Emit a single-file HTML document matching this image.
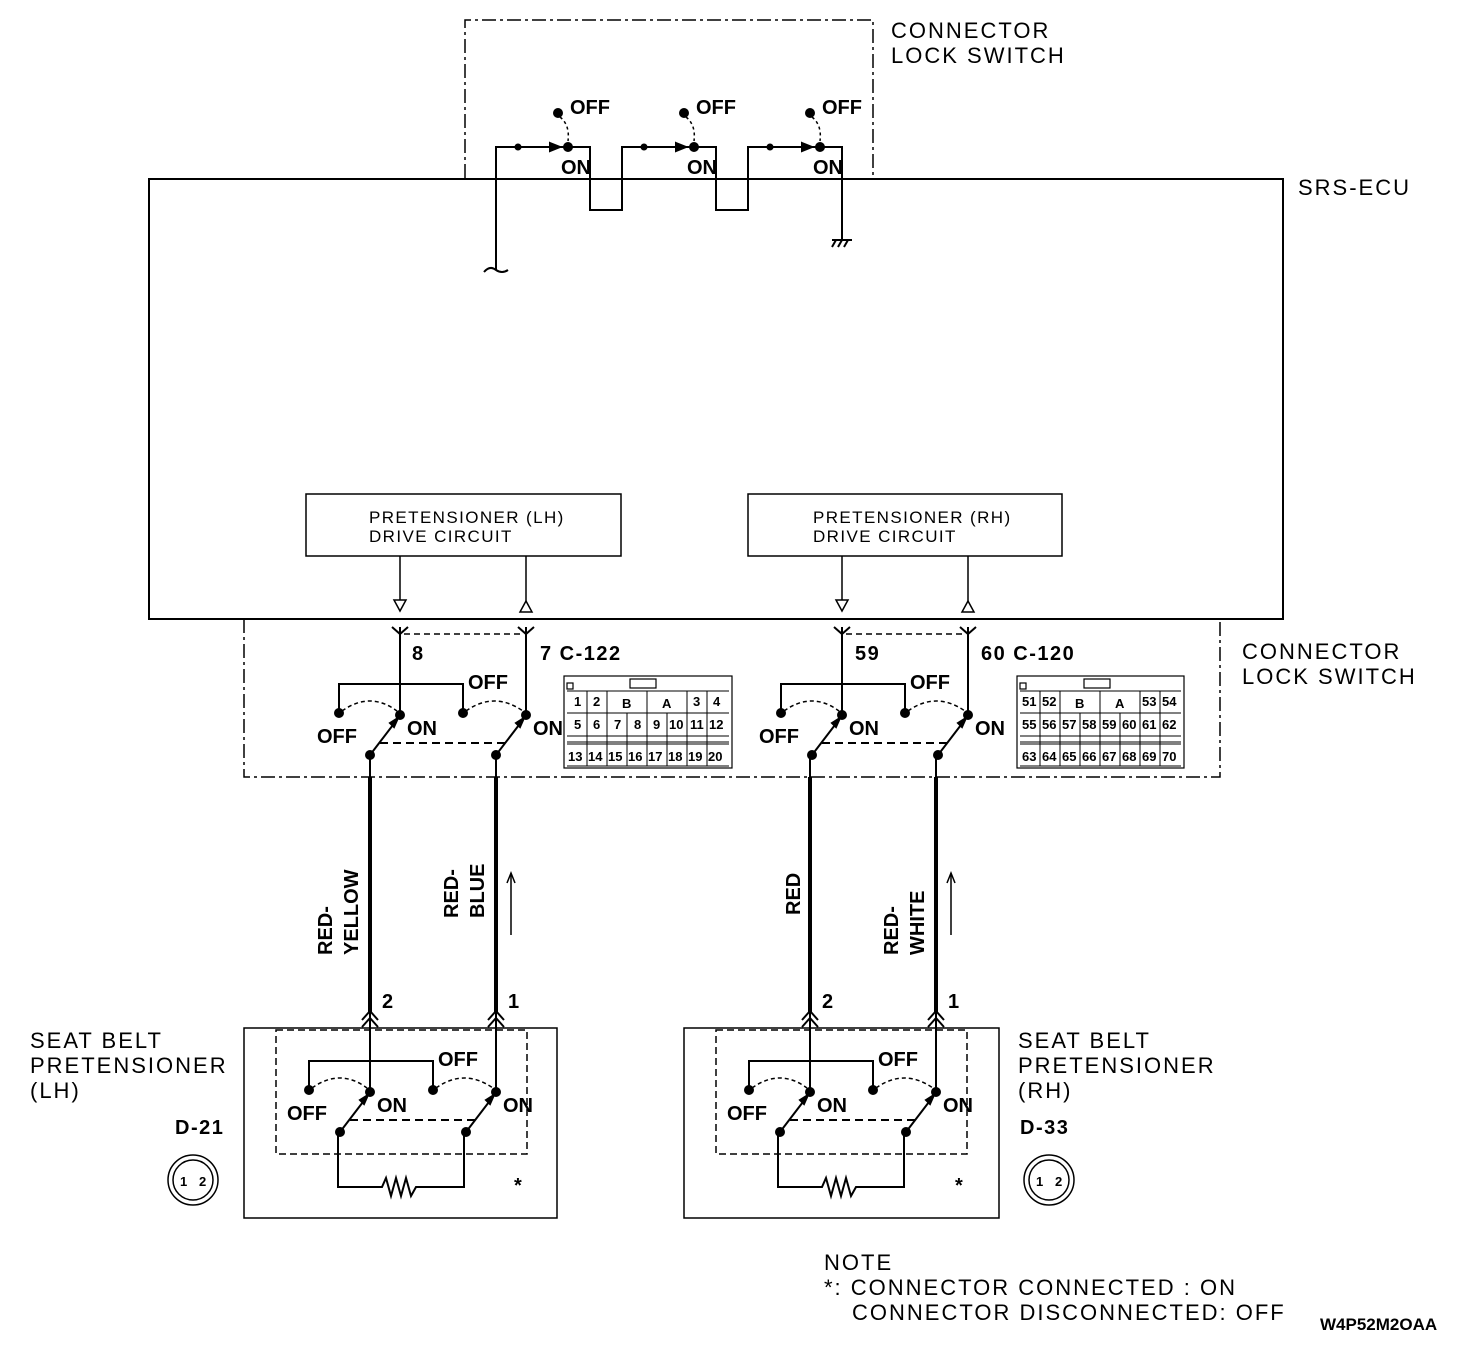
<!DOCTYPE html>
<html><head><style>
html,body{margin:0;padding:0;background:#fff}
svg{display:block}
text{font-family:"Liberation Sans",sans-serif;fill:#000}
.b{font-weight:bold;font-size:20px}
.n{font-size:22px;letter-spacing:2px}
.s{font-size:17px;letter-spacing:1.4px}
.c{font-size:13px;font-weight:bold}
.w{letter-spacing:1.5px}
</style></head><body>
<svg width="1472" height="1356" viewBox="0 0 1472 1356" xmlns="http://www.w3.org/2000/svg">
<defs>
<g id="sw" fill="none" stroke="#000" stroke-width="2">
  <line x1="0" y1="-88" x2="0" y2="0"/>
  <line x1="126" y1="-88" x2="126" y2="0"/>
  <polyline points="-61,-2 -61,-31 63,-31 63,-2"/>
  <path d="M-58,-4 Q-30,-24 -3,-4" stroke-dasharray="4,3" stroke-width="1.5"/>
  <path d="M66,-4 Q94,-24 123,-4" stroke-dasharray="4,3" stroke-width="1.5"/>
  <line x1="-30" y1="40" x2="-4" y2="6"/>
  <line x1="96" y1="40" x2="122" y2="6"/>
  <line x1="-20" y1="28" x2="110" y2="28" stroke-dasharray="8,5"/>
  <polygon points="-2,3 -10,8 -6,12" fill="#000"/>
  <polygon points="124,3 116,8 120,12" fill="#000"/>
  <circle cx="0" cy="0" r="4" fill="#000"/>
  <circle cx="126" cy="0" r="4" fill="#000"/>
  <circle cx="-61" cy="-2" r="4" fill="#000"/>
  <circle cx="63" cy="-2" r="4" fill="#000"/>
  <circle cx="-30" cy="40" r="4" fill="#000"/>
  <circle cx="96" cy="40" r="4" fill="#000"/>
</g>
<g id="lbl">
  <text class="b" x="-83" y="28">OFF</text>
  <text class="b" x="7" y="20">ON</text>
  <text class="b" x="68" y="-26">OFF</text>
  <text class="b" x="133" y="20">ON</text>
</g>
<g id="ls" fill="none" stroke="#000" stroke-width="2">
  <circle cx="-10" cy="-34" r="4" fill="#000"/>
  <path d="M-8,-30 Q2,-22 0,-6" stroke-dasharray="3,3" stroke-width="1.5"/>
  <polygon points="-18,-4 -8,0 -18,4" fill="#000"/>
  <circle cx="0" cy="0" r="4" fill="#000"/>
</g>
<g id="yc" fill="none" stroke="#000" stroke-width="2">
  <polyline points="-8,-7 0,0 8,-7"/>
</g>
</defs>

<polyline points="465,178 465,20 873,20 873,178" fill="none" stroke="#000" stroke-width="1.5" stroke-dasharray="14,4,3,4"/>
<text class="n" x="891" y="38">CONNECTOR</text>
<text class="n" x="891" y="63">LOCK SWITCH</text>
<rect x="149" y="179" width="1134" height="440" fill="none" stroke="#000" stroke-width="2"/>
<text class="n" x="1298" y="195">SRS-ECU</text>

<g fill="none" stroke="#000" stroke-width="2">
<polyline points="496,270 496,147 590,147 590,210 622,210 622,147 716,147 716,210 748,210 748,147 842,147 842,240"/>
<path d="M484,272 Q490,265 496,270 Q502,274 508,270"/>
<line x1="832" y1="240" x2="852" y2="240"/>
<line x1="832" y1="247" x2="836" y2="240"/><line x1="838" y1="247" x2="842" y2="240"/><line x1="844" y1="247" x2="848" y2="240"/>
</g>
<circle cx="518" cy="147" r="3.5"/><circle cx="644" cy="147" r="3.5"/><circle cx="770" cy="147" r="3.5"/>
<use href="#ls" x="568" y="147"/><use href="#ls" x="694" y="147"/><use href="#ls" x="820" y="147"/>
<text class="b" x="570" y="114">OFF</text><text class="b" x="696" y="114">OFF</text><text class="b" x="822" y="114">OFF</text>
<text class="b" x="561" y="174">ON</text><text class="b" x="687" y="174">ON</text><text class="b" x="813" y="174">ON</text>

<rect x="306" y="494" width="315" height="62" fill="none" stroke="#000" stroke-width="1.5"/>
<text class="s" x="369" y="523">PRETENSIONER (LH)</text>
<text class="s" x="369" y="542">DRIVE CIRCUIT</text>
<rect x="748" y="494" width="314" height="62" fill="none" stroke="#000" stroke-width="1.5"/>
<text class="s" x="813" y="523">PRETENSIONER (RH)</text>
<text class="s" x="813" y="542">DRIVE CIRCUIT</text>
<g fill="#fff" stroke="#000" stroke-width="1.5">
<line x1="400" y1="556" x2="400" y2="600"/><polygon points="394,600 406,600 400,611"/>
<line x1="526" y1="556" x2="526" y2="601"/><polygon points="520,612 532,612 526,601"/>
<line x1="842" y1="556" x2="842" y2="600"/><polygon points="836,600 848,600 842,611"/>
<line x1="968" y1="556" x2="968" y2="601"/><polygon points="962,612 974,612 968,601"/>
</g>

<polyline points="244,619 244,777 1220,777 1220,619" fill="none" stroke="#000" stroke-width="1.5" stroke-dasharray="14,4,3,4"/>
<text class="n" x="1242" y="659">CONNECTOR</text>
<text class="n" x="1242" y="684">LOCK SWITCH</text>

<use href="#yc" x="400" y="634"/><use href="#yc" x="526" y="634"/>
<use href="#yc" x="842" y="634"/><use href="#yc" x="968" y="634"/>
<line x1="404" y1="634" x2="522" y2="634" stroke="#000" stroke-width="1.5" stroke-dasharray="6,4"/>
<line x1="846" y1="634" x2="964" y2="634" stroke="#000" stroke-width="1.5" stroke-dasharray="6,4"/>
<use href="#sw" x="400" y="715"/><use href="#lbl" x="400" y="715"/>
<use href="#sw" x="842" y="715"/><use href="#lbl" x="842" y="715"/>
<text class="b" x="412" y="660">8</text><text class="b w" x="540" y="660">7 C-122</text>
<text class="b w" x="855" y="660">59</text><text class="b w" x="981" y="660">60 C-120</text>

<g fill="none" stroke="#000" stroke-width="1.2">
<rect x="564" y="676" width="168" height="92"/>
<rect x="630" y="679" width="26" height="9"/>
<rect x="567" y="683" width="6" height="6"/>
<rect x="1017" y="676" width="167" height="92"/>
<rect x="1084" y="679" width="26" height="9"/>
<rect x="1020" y="683" width="6" height="6"/>
</g>
<g>
<text class="c" x="574" y="706">1</text><text class="c" x="593" y="706">2</text><text class="c" x="622" y="708">B</text><text class="c" x="662" y="708">A</text><text class="c" x="693" y="706">3</text><text class="c" x="713" y="706">4</text>
<text class="c" x="574" y="729">5</text><text class="c" x="593" y="729">6</text><text class="c" x="614" y="729">7</text><text class="c" x="634" y="729">8</text><text class="c" x="653" y="729">9</text><text class="c" x="669" y="729">10</text><text class="c" x="690" y="729">11</text><text class="c" x="709" y="729">12</text>
<text class="c" x="568" y="761">13</text><text class="c" x="588" y="761">14</text><text class="c" x="608" y="761">15</text><text class="c" x="628" y="761">16</text><text class="c" x="648" y="761">17</text><text class="c" x="668" y="761">18</text><text class="c" x="688" y="761">19</text><text class="c" x="708" y="761">20</text>
<text class="c" x="1022" y="706">51</text><text class="c" x="1042" y="706">52</text><text class="c" x="1075" y="708">B</text><text class="c" x="1115" y="708">A</text><text class="c" x="1142" y="706">53</text><text class="c" x="1162" y="706">54</text>
<text class="c" x="1022" y="729">55</text><text class="c" x="1042" y="729">56</text><text class="c" x="1062" y="729">57</text><text class="c" x="1082" y="729">58</text><text class="c" x="1102" y="729">59</text><text class="c" x="1122" y="729">60</text><text class="c" x="1142" y="729">61</text><text class="c" x="1162" y="729">62</text>
<text class="c" x="1022" y="761">63</text><text class="c" x="1042" y="761">64</text><text class="c" x="1062" y="761">65</text><text class="c" x="1082" y="761">66</text><text class="c" x="1102" y="761">67</text><text class="c" x="1122" y="761">68</text><text class="c" x="1142" y="761">69</text><text class="c" x="1162" y="761">70</text>
</g>
<g stroke="#000" stroke-width="1">
<path d="M567,691H729M567,713H729M567,736H729M567,742H729M567,744H729M567,766H729" fill="none"/>
<path d="M587,691V766M607,691V766M647,691V713M687,691V766M707,691V766M627,713V766M647,713V766M667,713V766" fill="none"/>
<path d="M1020,691H1181M1020,713H1181M1020,736H1181M1020,742H1181M1020,744H1181M1020,766H1181" fill="none"/>
<path d="M1040,691V766M1060,691V766M1100,691V713M1140,691V766M1160,691V766M1080,713V766M1100,713V766M1120,713V766" fill="none"/>
</g>

<g stroke="#000" stroke-width="4">
<line x1="370" y1="777" x2="370" y2="1012"/><line x1="496" y1="777" x2="496" y2="1012"/>
<line x1="810" y1="777" x2="810" y2="1012"/><line x1="936" y1="777" x2="936" y2="1012"/>
</g>
<g stroke="#000" stroke-width="2">
<line x1="370" y1="755" x2="370" y2="777"/><line x1="496" y1="755" x2="496" y2="777"/>
<line x1="810" y1="755" x2="810" y2="777"/><line x1="936" y1="755" x2="936" y2="777"/>
<line x1="511" y1="935" x2="511" y2="875" stroke-width="1.5"/><polyline points="507,883 511,873 515,883" fill="none" stroke-width="1.5"/>
<line x1="951" y1="935" x2="951" y2="875" stroke-width="1.5"/><polyline points="947,883 951,873 955,883" fill="none" stroke-width="1.5"/>
</g>
<g>
<text class="b" transform="translate(332,955) rotate(-90)">RED-</text>
<text class="b" transform="translate(358,955) rotate(-90)">YELLOW</text>
<text class="b" transform="translate(458,918) rotate(-90)">RED-</text>
<text class="b" transform="translate(484,918) rotate(-90)">BLUE</text>
<text class="b" transform="translate(800,915) rotate(-90)">RED</text>
<text class="b" transform="translate(898,955) rotate(-90)">RED-</text>
<text class="b" transform="translate(924,955) rotate(-90)">WHITE</text>
</g>
<text class="b" x="382" y="1008">2</text><text class="b" x="508" y="1008">1</text>
<text class="b" x="822" y="1008">2</text><text class="b" x="948" y="1008">1</text>

<g fill="none" stroke="#000">
<rect x="244" y="1028" width="313" height="190" stroke-width="1.5"/>
<rect x="276" y="1030" width="251" height="124" stroke-width="1.5" stroke-dasharray="7,4"/>
<rect x="684" y="1028" width="315" height="190" stroke-width="1.5"/>
<rect x="716" y="1030" width="251" height="124" stroke-width="1.5" stroke-dasharray="7,4"/>
</g>
<g fill="none" stroke="#000" stroke-width="2">
<polyline points="362,1027 370,1018 378,1027"/><polyline points="362,1020 370,1011 378,1020"/>
<polyline points="488,1027 496,1018 504,1027"/><polyline points="488,1020 496,1011 504,1020"/>
<polyline points="802,1027 810,1018 818,1027"/><polyline points="802,1020 810,1011 818,1020"/>
<polyline points="928,1027 936,1018 944,1027"/><polyline points="928,1020 936,1011 944,1020"/>
<polyline points="338,1132 338,1187 382,1187 386,1178 391,1196 396,1178 401,1196 406,1178 411,1196 416,1187 464,1187 464,1132"/>
<polyline points="778,1132 778,1187 822,1187 826,1178 831,1196 836,1178 841,1196 846,1178 851,1196 856,1187 904,1187 904,1132"/>
</g>
<use href="#sw" x="370" y="1092"/><use href="#lbl" x="370" y="1092"/>
<use href="#sw" x="810" y="1092"/><use href="#lbl" x="810" y="1092"/>
<text class="b" x="514" y="1192">*</text><text class="b" x="955" y="1192">*</text>

<text class="n" x="30" y="1048">SEAT BELT</text>
<text class="n" x="30" y="1073">PRETENSIONER</text>
<text class="n" x="30" y="1098">(LH)</text>
<text class="b w" x="175" y="1134">D-21</text>
<text class="n" x="1018" y="1048">SEAT BELT</text>
<text class="n" x="1018" y="1073">PRETENSIONER</text>
<text class="n" x="1018" y="1098">(RH)</text>
<text class="b w" x="1020" y="1134">D-33</text>
<g fill="none" stroke="#000" stroke-width="1.5">
<circle cx="193" cy="1180" r="25"/><circle cx="193" cy="1180" r="20"/>
<circle cx="1049" cy="1180" r="25"/><circle cx="1049" cy="1180" r="20"/>
</g>
<text class="c" x="180" y="1186">1</text><text class="c" x="199" y="1186">2</text>
<text class="c" x="1036" y="1186">1</text><text class="c" x="1055" y="1186">2</text>

<text class="n" x="824" y="1270">NOTE</text>
<text class="n" x="824" y="1295">*: CONNECTOR CONNECTED : ON</text>
<text class="n" x="852" y="1320">CONNECTOR DISCONNECTED: OFF</text>
<text class="b" x="1320" y="1330" style="font-size:17px">W4P52M2OAA</text>
</svg>
</body></html>
